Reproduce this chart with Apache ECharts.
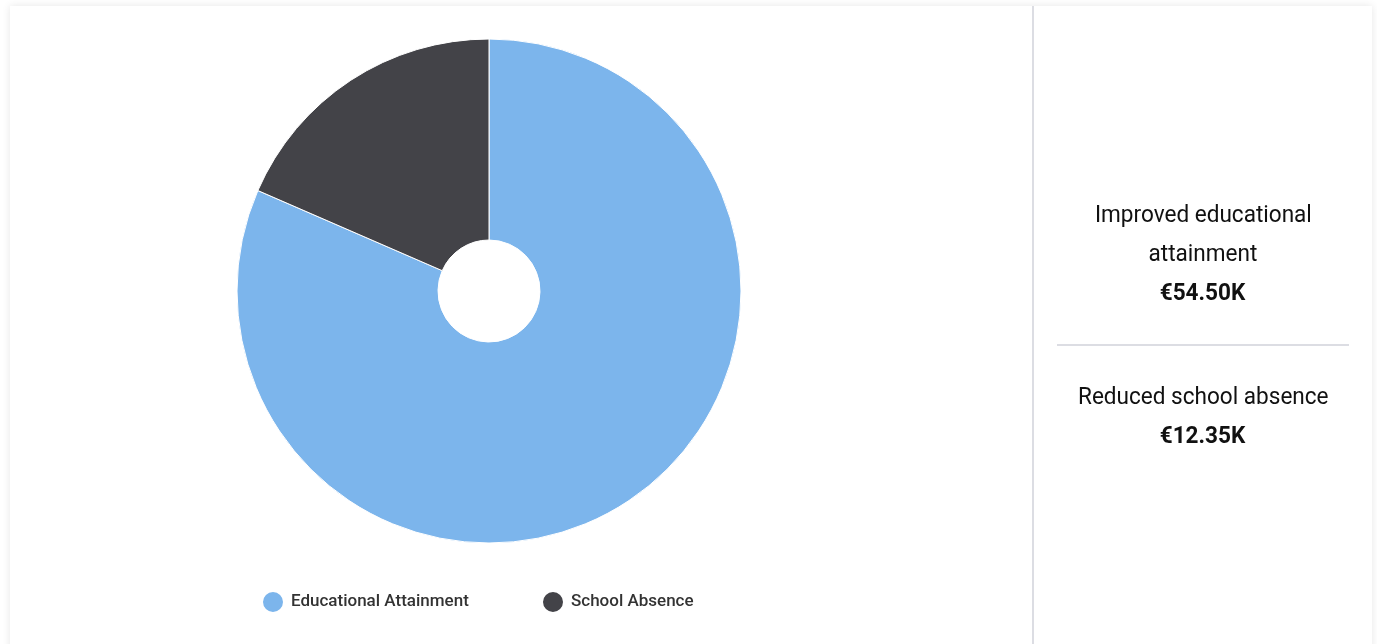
<!DOCTYPE html>
<html>
<head>
<meta charset="utf-8">
<script src="https://cdn.jsdelivr.net/npm/echarts@6/dist/echarts.min.js"></script>
<style>
  html, body { margin: 0; padding: 0; background: #ffffff; width: 1377px; height: 644px; overflow: hidden; }
  #card { position: absolute; left: 10px; top: 6px; width: 1362px; height: 660px; background: #fff;
          box-shadow: 0 0 8px rgba(0,0,0,0.10); }
  #chart { position: absolute; left: 0; top: 0; width: 1377px; height: 644px; }
  #vline { position: absolute; left: 1032px; top: 6px; width: 2px; height: 650px; background: #dcdde3; }
  #hline { position: absolute; left: 1057px; top: 344px; width: 292px; height: 2px; background: #dcdde3; }
  .stat { position: absolute; left: 1034px; width: 338px; text-align: center; font-family: Roboto, "Noto Sans", sans-serif;
          color: #111; font-size: 24px; line-height: 39px; }
  .stat .t { display: inline-block; transform: scaleX(0.94); transform-origin: center; white-space: nowrap; }
  .stat b { font-weight: 700; }
</style>
</head>
<body>
<div id="card"></div>
<div id="vline"></div>
<div id="hline"></div>
<div id="chart"></div>
<div class="stat" id="s1" style="top:195px"></div>
<div class="stat" id="s2" style="top:377px"></div>
<script>
const categories = ["Educational Attainment", "School Absence"];
const values = [54.50, 12.35];
const colors = ["#7cb5ec", "#434348"];
const statTitles = [["Improved educational", "attainment"], ["Reduced school absence"]];
const statLabels = ["€54.50K", "€12.35K"];

// right panel
function fillStat(id, lines, val) {
  const el = document.getElementById(id);
  let html = "";
  lines.forEach(l => { html += '<div><span class="t">' + l + '</span></div>'; });
  html += '<div><span class="t"><b>' + val + '</b></span></div>';
  el.innerHTML = html;
}
fillStat("s1", statTitles[0], statLabels[0]);
fillStat("s2", statTitles[1], statLabels[1]);

const chart = echarts.init(document.getElementById('chart'), null, { renderer: 'canvas' });
const legendBase = {
  icon: 'circle', itemWidth: 22, itemHeight: 22, top: 590, padding: 0,
  textStyle: { fontFamily: 'Roboto', fontSize: 17, fontWeight: 500, color: '#333333', padding: [0, 0, 0, 2] },
  selectedMode: true
};
chart.setOption({
  animation: false,
  color: colors,
  legend: [
    Object.assign({}, legendBase, { left: 261, data: [categories[0]], itemGap: 10 }),
    Object.assign({}, legendBase, { left: 541, data: [categories[1]], itemGap: 10 })
  ],
  series: [{
    type: 'pie',
    center: [489, 291],
    radius: [51, 252],
    startAngle: 90,
    clockwise: true,
    label: { show: false },
    labelLine: { show: false },
    itemStyle: { borderColor: '#ffffff', borderWidth: 1 },
    emphasis: { scale: false },
    data: categories.map((c, i) => ({ name: c, value: values[i] }))
  }]
});
</script>
</body>
</html>
